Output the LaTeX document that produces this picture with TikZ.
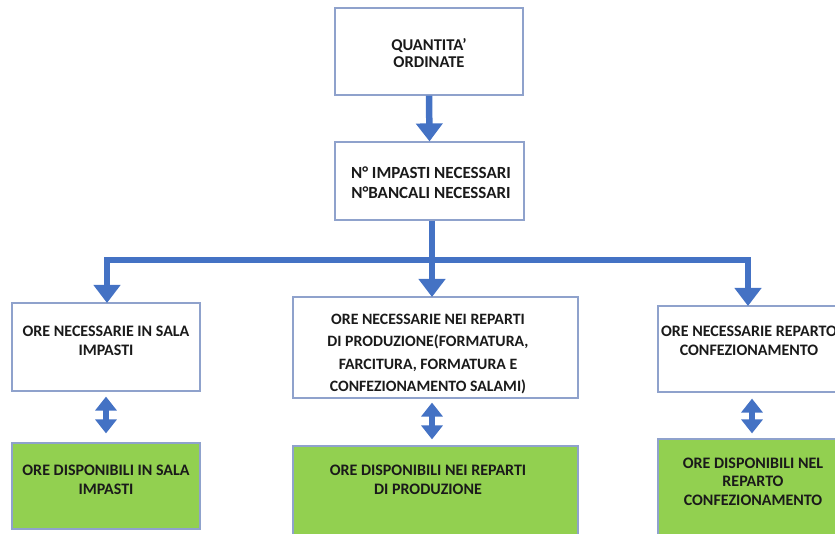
\documentclass[tikz,border=0pt]{standalone}
\usepackage{fontspec}
\setmainfont{Carlito}
\usetikzlibrary{arrows.meta}
\definecolor{flowblue}{HTML}{4472C4}
\definecolor{edgegray}{HTML}{8FA2CC}
\definecolor{okgreen}{HTML}{92D050}
\definecolor{ink}{HTML}{1A1A1A}
\tikzset{
  box/.style={draw=edgegray, line width=1.2pt, fill=white, minimum width=#1, inner sep=0pt},
  gbox/.style={box=#1, fill=okgreen},
  lbl/.style={font=\bfseries\fontsize{16}{18.5}\selectfont, text=ink, align=center, inner sep=0pt},
  flow/.style={draw=flowblue, line width=6.5pt, -{Triangle[width=26pt,length=18pt]}},
  bar/.style={draw=flowblue, line width=6.5pt},
  both/.style={draw=flowblue, line width=6pt, {Triangle[width=21pt,length=14pt]}-{Triangle[width=21pt,length=14pt]}}
}
\begin{document}
\begin{tikzpicture}[x=1pt,y=-1pt]
  \useasboundingbox (0,0) rectangle (835,534);
  \clip (0,0) rectangle (835,534);

  % boxes
  \node[box=188pt, minimum height=87pt] (qo) at (429,51.5) {};
  \node[box=189pt, minimum height=78pt] (nb) at (429.5,181) {};
  \node[box=188pt, minimum height=88pt] (hs) at (106,347) {};
  \node[box=285pt, minimum height=101pt] (hp) at (435.5,347.5) {};
  \node[box=188pt, minimum height=86pt] (hc) at (752,349) {};
  \node[gbox=188pt, minimum height=86pt] (ds) at (106,486) {};
  \node[gbox=285pt, minimum height=100pt] (dp) at (435.5,496) {};
  \node[gbox=188pt, minimum height=100pt] (dc) at (752,489) {};

  % labels
  \node[lbl, font=\bfseries\fontsize{16.5}{17.5}\selectfont] (tqo) at (429,53) {QUANTITA’\\ORDINATE};
  \node[lbl, font=\bfseries\fontsize{17}{20}\selectfont] (tnb) at (431,183) {N° IMPASTI NECESSARI\\N°BANCALI NECESSARI};
  \node[lbl] (ths) at (106,341) {ORE NECESSARIE IN SALA\\IMPASTI};
  \node[lbl, font=\bfseries\fontsize{15.8}{22.3}\selectfont] (thp) at (428,354) {ORE NECESSARIE NEI REPARTI\\DI PRODUZIONE(FORMATURA,\\FARCITURA, FORMATURA E\\CONFEZIONAMENTO SALAMI)};
  \node[lbl] (thc) at (749,341) {ORE NECESSARIE REPARTO\\CONFEZIONAMENTO};
  \node[lbl] (tds) at (106,480) {ORE DISPONIBILI IN SALA\\IMPASTI};
  \node[lbl] (tdp) at (428,480) {ORE DISPONIBILI NEI REPARTI\\DI PRODUZIONE};
  \node[lbl] (tdc) at (753,481.5) {ORE DISPONIBILI NEL\\REPARTO\\CONFEZIONAMENTO};

  % junction points of the distribution bar
  \coordinate (jm) at (432,260);
  \coordinate (jl) at (107,260);
  \coordinate (jr) at (748,260);
  \coordinate (pl) at (107,303);
  \coordinate (pm) at (432,297);
  \coordinate (pr) at (748,306);

  % connectors
  \draw[flow] (qo.south) -- (nb.north);
  \draw[bar] (nb.south -| jm) -- (jm);
  \draw[bar, line cap=rect] (jl) -- (jr);
  \draw[flow] (jl) -- (pl);
  \draw[flow] (jm) -- (pm);
  \draw[flow] (jr) -- (pr);

  % comparison arrows between needed and available hours
  \draw[both] ([yshift=-5pt]hs.south) -- ([yshift=9pt]ds.north);
  \draw[both] ([xshift=-3.5pt,yshift=-4pt]hp.south) -- ([xshift=-3.5pt,yshift=6pt]dp.north);
  \draw[both] ([yshift=-6pt]hc.south) -- ([yshift=5pt]dc.north);
\end{tikzpicture}
\end{document}
